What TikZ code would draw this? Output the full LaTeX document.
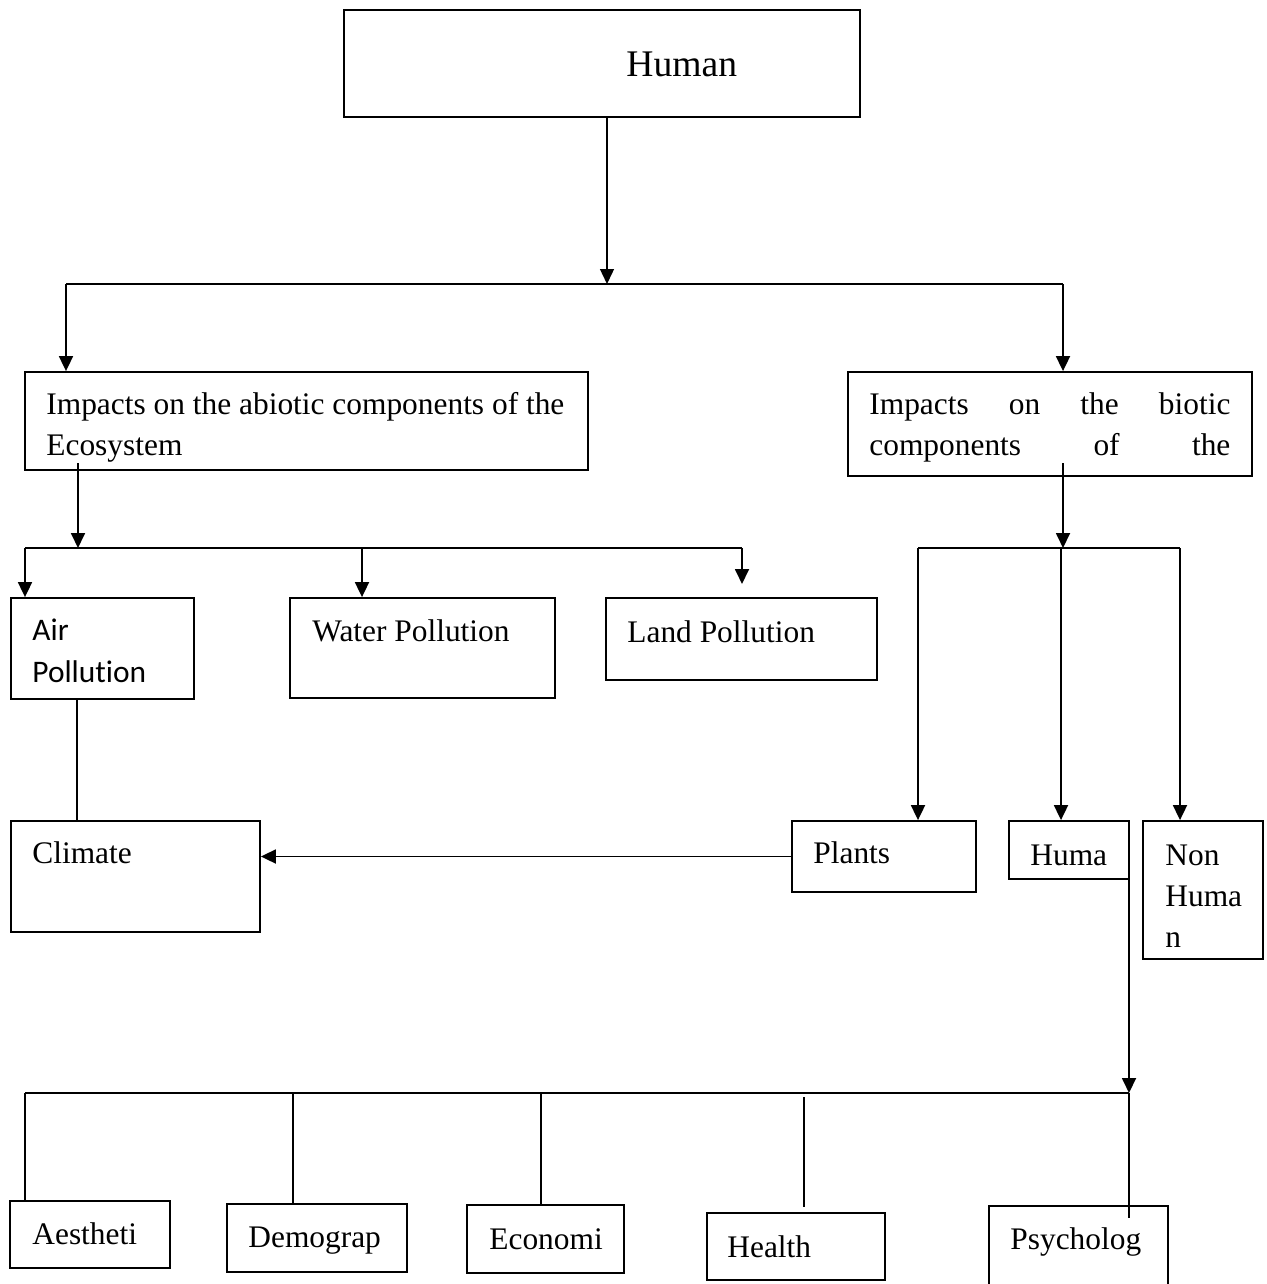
\documentclass[tikz,border=0pt]{standalone}
\usepackage{fontspec}
\setmainfont{Liberation Serif}
\newfontfamily\calibrifont[Ligatures=NoCommon]{Carlito}
\usetikzlibrary{fit,arrows.meta,calc}
\begin{document}
\begin{tikzpicture}[x=0.5pt,y=-0.5pt,
  box/.style={draw,line width=0.9pt,inner sep=0pt},
  txt/.style={anchor=base west,inner sep=0pt,font=\fontsize{15.7}{20}\selectfont},
  arr/.style={line width=0.9pt,-{Triangle[width=7pt,length=7.5pt]}},
  link/.style={line width=0.9pt},
  thin/.style={line width=0.6pt}]
\useasboundingbox (0,0) rectangle (1266,1284);
\clip (0,0) rectangle (1266,1284);

% ---- boxes
\node[box,fit={(344,10)(860,117)}] (human) {};
\node[box,fit={(25,372)(588,470)}] (abio) {};
\node[box,fit={(848,372)(1252,476)}] (bio) {};
\node[box,fit={(11,598)(194,699)}] (air) {};
\node[box,fit={(290,598)(555,698)}] (water) {};
\node[box,fit={(606,598)(877,680)}] (land) {};
\node[box,fit={(11,821)(260,932)}] (climate) {};
\node[box,fit={(792,821)(976,892)}] (plants) {};
\node[box,fit={(1009,821)(1129,879)}] (huma) {};
\node[box,fit={(1143,821)(1263,959)}] (nonhuman) {};
\node[box,fit={(10,1201)(170,1268)}] (aest) {};
\node[box,fit={(227,1204)(407,1272)}] (demo) {};
\node[box,fit={(467,1205)(624,1273)}] (econ) {};
\node[box,fit={(707,1213)(885,1280)}] (health) {};
\node[box,fit={(989,1206)(1168,1295)}] (psych) {};

% ---- texts
\node[txt,font=\fontsize{18.8}{22}\selectfont] (humanT) at (626,76) {Human};
\node[txt] (abioT1) at (46,414) {Impacts on the abiotic components of the};
\node[txt] (abioT2) at (46,455) {Ecosystem};
\node[txt] (bioT1) at (869,414) {\makebox[180.5pt][s]{Impacts on the biotic}};
\node[txt] (bioT2) at (869,455) {\makebox[180.5pt][s]{components of the}};
\node[txt,font=\calibrifont\fontsize{15.7}{20}\selectfont] (airT1) at (32,640) {Air};
\node[txt,font=\calibrifont\fontsize{15.7}{20}\selectfont] (airT2) at (32,682) {Pollution};
\node[txt] (waterT) at (312,641) {Water Pollution};
\node[txt] (landT) at (627,642) {Land Pollution};
\node[txt] (climateT) at (32,863) {Climate};
\node[txt] (plantsT) at (813,863) {Plants};
\node[txt] (humaT) at (1030,865) {Huma};
\node[txt] (nonT1) at (1165,865) {Non};
\node[txt] (nonT2) at (1165,906) {Huma};
\node[txt] (nonT3) at (1165,947) {n};
\node[txt] (aestT) at (32,1244) {Aestheti};
\node[txt] (demoT) at (248,1247) {Demograp};
\node[txt] (econT) at (489,1249) {Economi};
\node[txt] (healthT) at (727,1257) {Health};
\node[txt] (psychT) at (1010,1249) {Psycholog};

% ---- junction coordinates
\coordinate (hj) at (607,284);
\coordinate (hL) at (66,284);
\coordinate (hR) at (1063,284);
\coordinate (as) at (78,463);
\coordinate (aj) at (78,548);
\coordinate (aL) at (25,548);
\coordinate (aM) at (362,548);
\coordinate (aR) at (742,548);
\coordinate (landEnd) at (742,584);
\coordinate (bs) at (1063,463);
\coordinate (bj) at (1063,548);
\coordinate (bL) at (918,548);
\coordinate (bM) at (1061,548);
\coordinate (bR) at (1180,548);
\coordinate (ac) at (77,699);
\coordinate (hs) at (1129,879);
\coordinate (hj2) at (1129,1093);
\coordinate (cL) at (25,1093);
\coordinate (c2) at (293,1093);
\coordinate (c3) at (541,1093);
\coordinate (c4) at (804,1097);
\coordinate (c4e) at (804,1207);
\coordinate (psEnd) at (1129,1218);

% ---- connectors
\draw[arr,line width=0.7pt] (human.south -| hj) -- (hj);
\draw[link] (hL) -- (hR);
\draw[arr] (hL) -- (abio.north -| hL);
\draw[arr] (hR) -- (bio.north -| hR);

\draw[arr] (as) -- (aj);
\draw[link] (aL) -- (aR);
\draw[arr] (aL) -- (air.north -| aL);
\draw[arr] (aM) -- (water.north -| aM);
\draw[arr] (aR) -- (landEnd);

\draw[arr] (bs) -- (bj);
\draw[link] (bL) -- (bR);
\draw[arr] (bL) -- (plants.north -| bL);
\draw[arr] (bM) -- (huma.north -| bM);
\draw[arr] (bR) -- (nonhuman.north -| bR);

\draw[link] (ac) -- (climate.north -| ac);
\draw[arr] (plants.west) -- (climate.east |- plants.west);

\draw[arr] (hs) -- (hj2);
\draw[link] (cL) -- (hj2);
\draw[link] (hj2) -- (psEnd);
\draw[thin] (cL) -- (aest.north -| cL);
\draw[thin] (c2) -- (demo.north -| c2);
\draw[thin] (c3) -- (econ.north -| c3);
\draw[thin] (c4) -- (c4e);
\end{tikzpicture}
\end{document}
